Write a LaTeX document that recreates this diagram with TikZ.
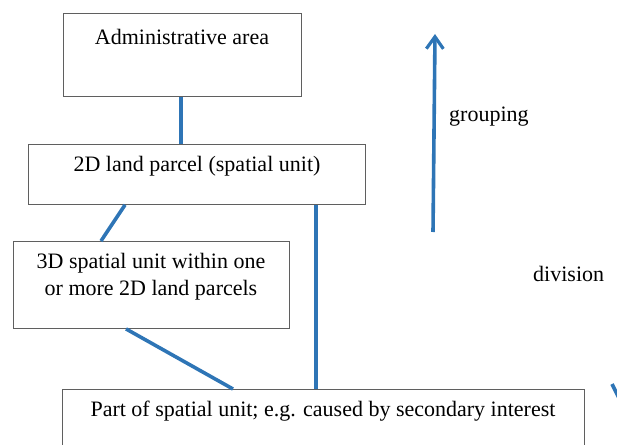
\documentclass[tikz,border=0pt]{standalone}
\usepackage{fontspec}
\setmainfont{Liberation Serif}
\usetikzlibrary{arrows.meta}
\definecolor{linkblue}{RGB}{46,117,182}
\definecolor{boxgray}{RGB}{95,95,95}
\begin{document}
\begin{tikzpicture}[x=1pt,y=-1pt,
  box/.style={draw=boxgray,line width=0.9pt,fill=white,inner sep=0pt,anchor=north west},
  txt/.style={inner sep=0pt,align=center,font=\fontsize{22}{27}\selectfont},
  link/.style={draw=linkblue,line width=3.6pt}]
\useasboundingbox (0,0) rectangle (617,444);
\clip (0,0) rectangle (617,444);
% boxes
\node[box,minimum width=238pt,minimum height=83pt] (adm) at (63,13) {};
\node[box,minimum width=337pt,minimum height=60pt] (par) at (28,144) {};
\node[box,minimum width=276pt,minimum height=87pt] (sp3) at (13,241) {};
\node[box,minimum width=522pt,minimum height=80pt] (prt) at (62,389) {};
% texts
\node[txt] (tadm) at (182,37) {Administrative area};
\node[txt] (tpar) at (197,166) {2D land parcel (spatial unit)};
\node[txt] (tsp3) at (151,277) {3D spatial unit within one\\or more 2D land parcels};
\node[txt] (tprt) at (323,411) {Part of spatial unit; e.g. caused by secondary interest};
\node[txt,anchor=west] (tgrp) at (449,117) {grouping};
\node[txt,anchor=west] (tdiv) at (533,274) {division};
% connectors
\draw[link] ([xshift=118pt]adm.south west) -- ([xshift=153pt]par.north west);
\draw[link] ([xshift=97pt]par.south west) -- ([xshift=88pt]sp3.north west);
\draw[link] ([xshift=288pt]par.south west) -- ([xshift=254pt]prt.north west);
\draw[link] ([xshift=113pt]sp3.south west) -- ([xshift=171pt]prt.north west);
% grouping arrow
\coordinate (g1) at (433,232);
\coordinate (g2) at (435,34);
\draw[link,-{Straight Barb[length=12pt,width=17pt,line width=3.2pt]}] (g1) -- (g2);
% fragment at right edge
\coordinate (f1) at (612,384);
\coordinate (f2) at (619,398);
\draw[link] (f1) -- (f2);
\end{tikzpicture}
\end{document}
